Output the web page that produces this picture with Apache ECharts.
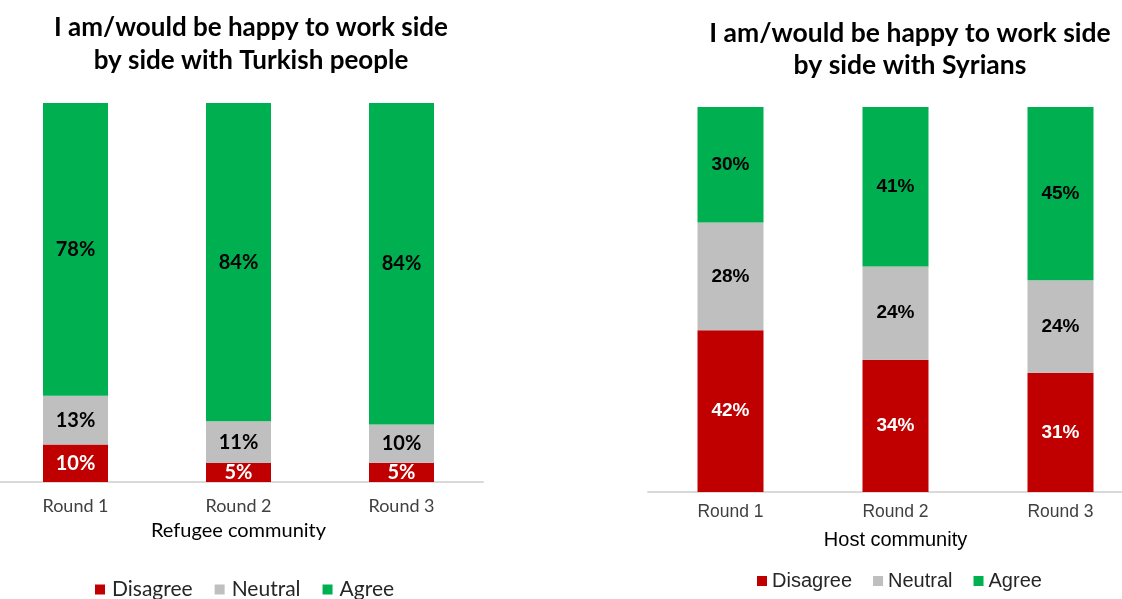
<!DOCTYPE html>
<html>
<head>
<meta charset="utf-8">
<script src="https://cdn.jsdelivr.net/npm/echarts@6/dist/echarts.min.js"></script>
<style>
  html, body { margin: 0; padding: 0; background: #fff; }
  #chart { width: 1122px; height: 599px; }
</style>
</head>
<body>
<div id="chart"></div>
<script>
// Survey rounds
const rounds = ['Round 1', 'Round 2', 'Round 3'];

// Refugee community: "happy to work side by side with Turkish people" (%)
const refugeeDisagree = [10, 5, 5];
const refugeeNeutral = [13, 11, 10];
const refugeeAgree = [78, 84, 84];

// Host community: "happy to work side by side with Syrians" (%)
const hostDisagree = [42, 34, 31];
const hostNeutral = [28, 24, 24];
const hostAgree = [30, 41, 45];

const answerNames = ['Disagree', 'Neutral', 'Agree'];
const answerColors = ['#C00000', '#BFBFBF', '#00B050'];
const labelColors = ['#ffffff', '#000000', '#000000'];

// 100% stacked: each segment is its share of the round total, label shows the reported figure
function shares(groups) {
  const totals = groups[0].map((_, i) => groups.reduce((s, g) => s + g[i], 0));
  return groups.map(g => g.map((v, i) => ({ value: v / totals[i] * 100, raw: v })));
}

const leftFont = 'Lato, "Open Sans", sans-serif';
const rightFont = '"Liberation Sans", Arial, sans-serif';

function buildSeries(groups, axisIndex, stack, barWidth, labelFont, labelSize) {
  const data = shares(groups);
  return data.map((d, k) => ({
    name: answerNames[k],
    type: 'bar',
    stack: stack,
    xAxisIndex: axisIndex,
    yAxisIndex: axisIndex,
    barWidth: barWidth,
    data: d,
    itemStyle: { color: answerColors[k] },
    label: {
      show: true,
      position: 'inside',
      formatter: p => p.data.raw + '%',
      color: labelColors[k],
      fontFamily: labelFont,
      fontWeight: 'bold',
      fontSize: labelSize
    },
    emphasis: { disabled: true }
  }));
}

const chart = echarts.init(document.getElementById('chart'), null, { renderer: 'canvas' });

chart.setOption({
  animation: false,
  title: [
    {
      text: 'I am/would be happy to work side\nby side with Turkish people',
      left: 251, top: 11, padding: 0, textAlign: 'center',
      textStyle: { fontFamily: leftFont, fontWeight: 'bold', fontSize: 26, lineHeight: 33, color: '#000' }
    },
    {
      text: 'I am/would be happy to work side\nby side with Syrians',
      left: 910, top: 17, padding: 0, textAlign: 'center',
      textStyle: { fontFamily: leftFont, fontWeight: 'bold', fontSize: 26.5, lineHeight: 32, color: '#000' }
    }
  ],
  legend: [
    {
      data: answerNames, left: 95, top: 579, padding: 0,
      itemWidth: 10, itemHeight: 10, itemGap: 22, icon: 'rect',
      selectedMode: false,
      textStyle: { fontFamily: leftFont, fontSize: 21, color: '#262626', padding: [0, 0, 0, 2] }
    },
    {
      data: answerNames, left: 757, top: 571, padding: 0,
      itemWidth: 10, itemHeight: 10, itemGap: 21, icon: 'rect',
      selectedMode: false,
      textStyle: { fontFamily: rightFont, fontSize: 20, color: '#262626' }
    }
  ],
  grid: [
    { left: -6, top: 103, width: 489, height: 379, outerBoundsMode: 'none' },
    { left: 648, top: 107, width: 495, height: 385, outerBoundsMode: 'none' }
  ],
  xAxis: [
    {
      type: 'category', gridIndex: 0, data: rounds,
      axisLine: { lineStyle: { color: '#D9D9D9', width: 2 } },
      axisTick: { show: false },
      axisLabel: { fontFamily: leftFont, fontSize: 18, color: '#404040', margin: 15 },
      name: 'Refugee community', nameLocation: 'middle', nameGap: 39,
      nameTextStyle: { fontFamily: leftFont, fontSize: 20, color: '#000' }
    },
    {
      type: 'category', gridIndex: 1, data: rounds,
      axisLine: { lineStyle: { color: '#D9D9D9', width: 2 } },
      axisTick: { show: false },
      axisLabel: { fontFamily: rightFont, fontSize: 17.5, color: '#404040', margin: 11 },
      name: 'Host community', nameLocation: 'middle', nameGap: 38,
      nameTextStyle: { fontFamily: rightFont, fontSize: 20, color: '#000' }
    }
  ],
  yAxis: [
    { type: 'value', gridIndex: 0, min: 0, max: 100, show: false },
    { type: 'value', gridIndex: 1, min: 0, max: 100, show: false }
  ],
  series: [
    ...buildSeries([refugeeDisagree, refugeeNeutral, refugeeAgree], 0, 'refugee', 65, leftFont, 20),
    ...buildSeries([hostDisagree, hostNeutral, hostAgree], 1, 'host', 66, rightFont, 19)
  ]
});
</script>
</body>
</html>
